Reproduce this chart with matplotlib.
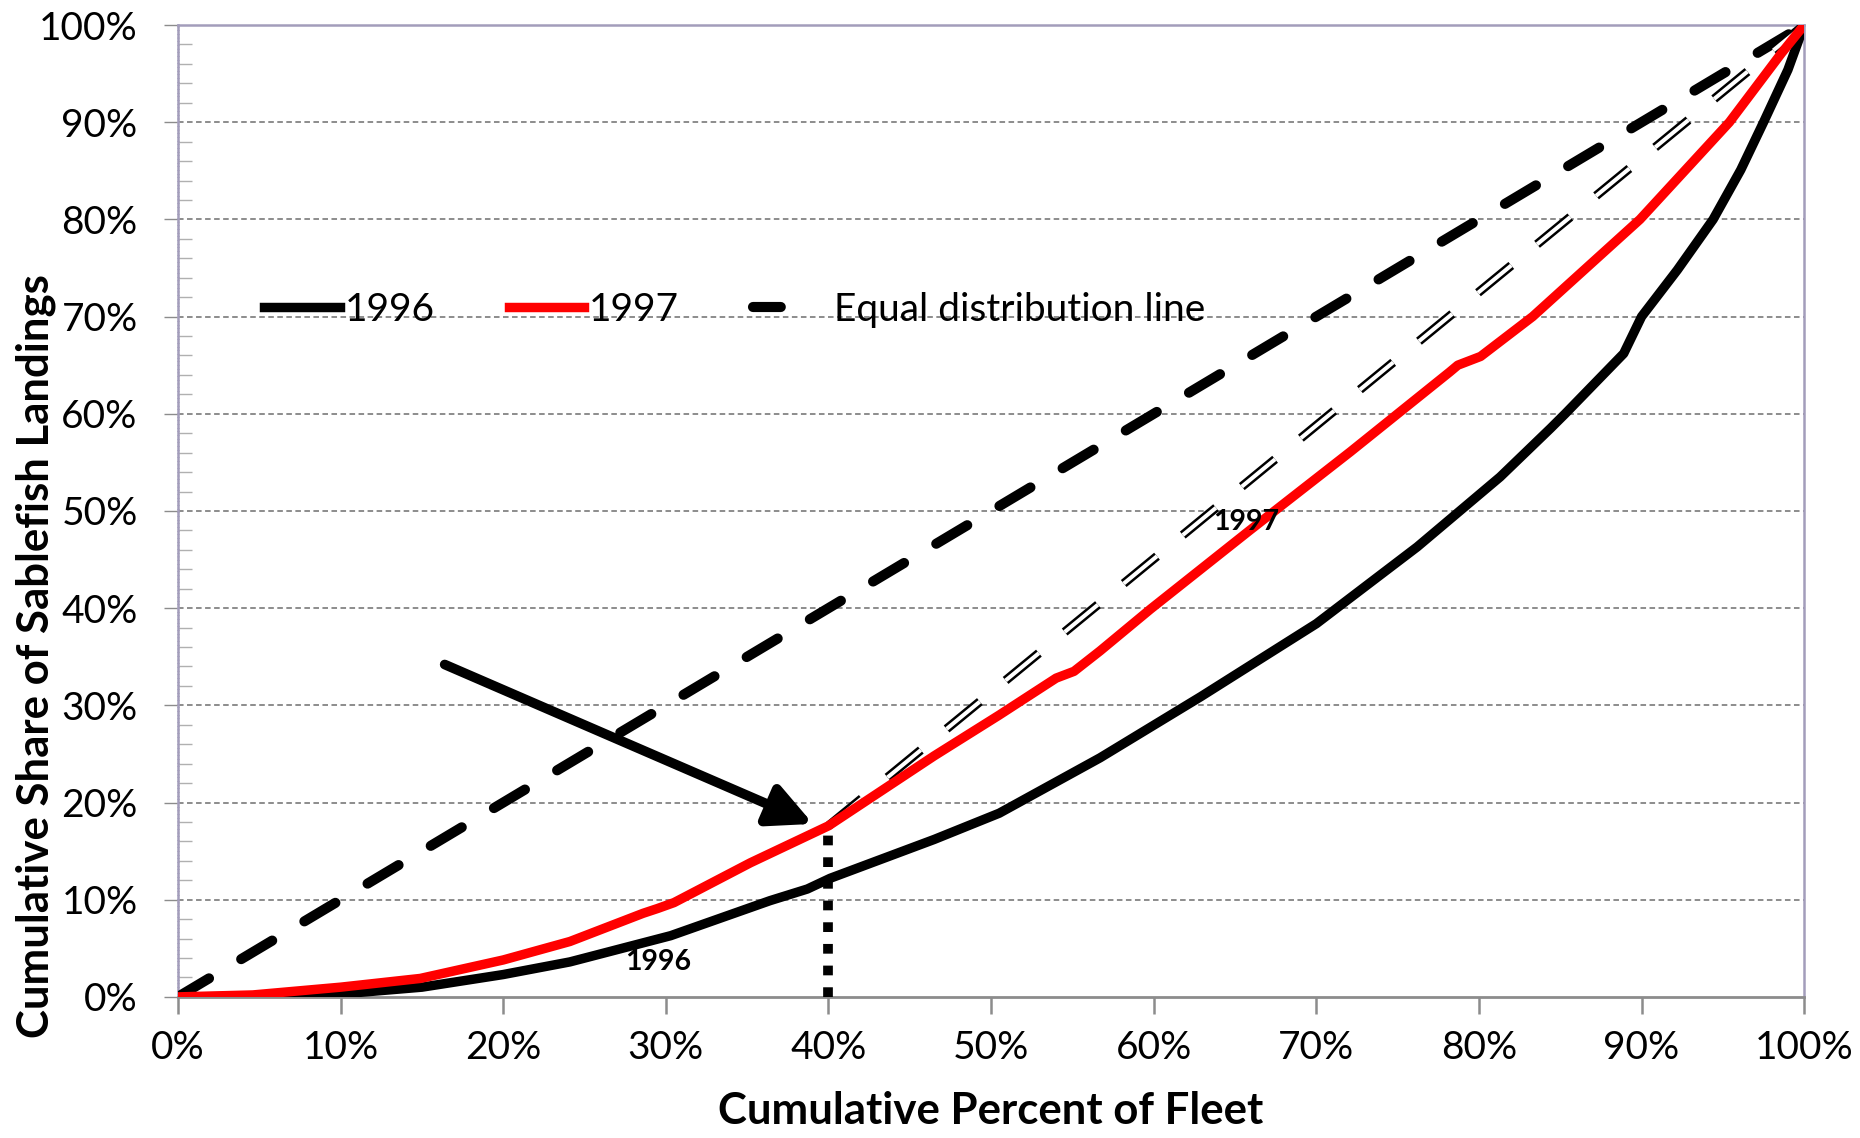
import numpy as np
import matplotlib
matplotlib.use("Agg")
from matplotlib import pyplot as plt
from matplotlib.lines import Line2D
from matplotlib.ticker import MultipleLocator, FuncFormatter

plt.rcParams['font.family'] = ['Lato', 'DejaVu Sans']
plt.rcParams['lines.scale_dashes'] = False

# cumulative percent of fleet (x) and share of landings (y)
x96 = [0, 5, 10, 15, 20, 24.1, 30.3, 36.4, 38.7, 40.1, 46.5, 50.5, 56.7, 62.9, 70.0, 76.2, 81.3, 84.4, 85.3, 88.9, 90.0, 92.2, 94.4, 96.1, 97.5, 99.0, 100]
y96 = [0, 0.05, 0.3, 1.0, 2.3, 3.6, 6.3, 9.9, 11.1, 12.2, 16.2, 18.9, 24.6, 30.9, 38.4, 46.3, 53.5, 58.5, 60.0, 66.2, 70.0, 74.8, 80.0, 85.1, 90.0, 95.4, 100]

x97 = [0, 4.6, 10, 14.9, 20, 24.1, 28.6, 29.5, 30.5, 35.2, 40, 46.5, 50.5, 54.0, 55.1, 56.7, 59.8, 65.9, 72.1, 78.2, 78.7, 80.1, 83.3, 89.9, 95.4, 98.6, 100]
y97 = [0, 0.2, 1.0, 1.9, 3.8, 5.7, 8.6, 9.1, 9.7, 13.8, 17.6, 24.8, 29.0, 32.8, 33.5, 35.6, 39.9, 48.0, 56.1, 64.3, 65.0, 65.9, 70.0, 80.0, 90.0, 97.1, 100]

x_eq = [0, 100]
y_eq = [0, 100]

# reference line from the 1997 point at 40% of fleet
x_ref = [40, 100]
y_ref = [17.6, 100]

fig = plt.figure(figsize=(18.6, 11.38), dpi=100)
ax = fig.add_axes([0.0957, 0.124, 0.8743, 0.854])

# grid
for v in range(10, 101, 10):
    ax.axhline(v, color='#8c8c8c', lw=1.4, dashes=(4, 2.5), zorder=0)

ax.plot(x_eq, y_eq, color='black', lw=7.3, dashes=(26, 27), dash_capstyle='round', zorder=3)
# double line
ax.plot(x_ref, y_ref, color='black', lw=6.5, dashes=(31, 24), dash_capstyle='butt', zorder=3)
ax.plot(x_ref, y_ref, color='white', lw=2.9, dashes=(31, 24), dash_capstyle='butt', zorder=3)

ax.plot(x96, y96, color='black', lw=6.8, zorder=4, solid_joinstyle='round')
ax.plot(x97, y97, color='#ff0000', lw=6.8, zorder=4, solid_joinstyle='round')

# vertical dotted marker at 40%
ax.plot([40, 40], [0, 17.6], color='black', lw=7, dashes=(7, 8.6), dash_capstyle='butt', zorder=5)

ax.annotate('', xy=(39.05, 17.8), xytext=(16.4, 34.2),
            arrowprops=dict(arrowstyle='-|>,head_length=0.65,head_width=0.32',
                            lw=7, color='black', mutation_scale=40,
                            shrinkA=0, shrinkB=0), zorder=6)

ax.text(29.5, 3.6, '1996', fontsize=20.5, fontweight='bold', ha='center', va='center', zorder=6)
ax.text(65.7, 48.9, '1997', fontsize=20.5, fontweight='bold', ha='center', va='center', zorder=6)

ax.set_xlim(0, 100)
ax.set_ylim(0, 100)
pct = FuncFormatter(lambda v, p: '%d%%' % round(v))
ax.xaxis.set_major_locator(MultipleLocator(10))
ax.yaxis.set_major_locator(MultipleLocator(10))
ax.yaxis.set_minor_locator(MultipleLocator(2))
ax.xaxis.set_major_formatter(pct)
ax.yaxis.set_major_formatter(pct)

ax.tick_params(axis='x', which='major', direction='out', length=12, width=1.8,
               color='#8c8c8c', labelsize=28, pad=12)
ax.tick_params(axis='y', which='major', direction='out', length=10, width=1,
               color='#8c8c8c', labelsize=28, pad=19)
ax.tick_params(axis='y', which='minor', direction='in', length=10, width=1, color='#b0b0b0')

for s in ['left', 'top', 'right']:
    ax.spines[s].set_color('#a39dbb')
    ax.spines[s].set_linewidth(1.8)
ax.spines['left'].set_linestyle(':')
ax.spines['bottom'].set_color('#8c8c8c')
ax.spines['bottom'].set_linewidth(2)

ax.set_xlabel('Cumulative Percent of Fleet', fontsize=31.5, fontweight='bold', labelpad=18)
ax.set_ylabel('Cumulative Share of Sablefish Landings', fontsize=31.5, fontweight='bold')
ax.yaxis.set_label_coords(-0.075, 0.351)

h96 = Line2D([], [], color='black', lw=6.8)
h97 = Line2D([], [], color='#ff0000', lw=6.8)
heq = Line2D([], [], color='black', lw=7.3, dashes=(20, 60), dash_capstyle='round')
ax.legend([h96, h97, heq], ['1996', '1997', 'Equal distribution line'],
          loc='center left', bbox_to_anchor=(0.041, 0.707), ncol=3, frameon=False,
          fontsize=28, handlelength=1.95, handletextpad=0.12, columnspacing=1.9, borderpad=0)

fig.savefig('out.png', dpi=100)
